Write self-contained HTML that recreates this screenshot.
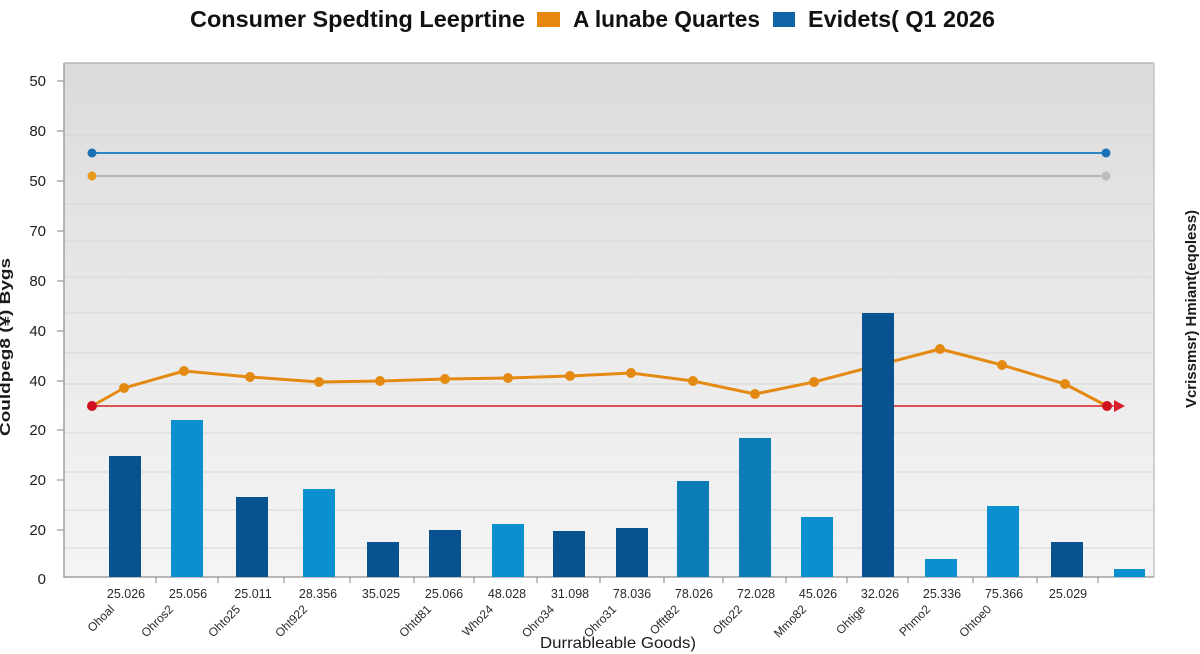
<!DOCTYPE html>
<html>
<head>
<meta charset="utf-8">
<style>
  html, body { margin:0; padding:0; background:#ffffff; }
  svg { display:block; }
  text { font-family: "Liberation Sans", "DejaVu Sans", sans-serif; }
</style>
</head>
<body>
<svg width="1200" height="654" viewBox="0 0 1200 654" xmlns="http://www.w3.org/2000/svg">
  <defs>
    <linearGradient id="bg" x1="0" y1="0" x2="0" y2="1">
      <stop offset="0" stop-color="#dbdbdb"/>
      <stop offset="0.35" stop-color="#e5e5e5"/>
      <stop offset="0.7" stop-color="#eeeeee"/>
      <stop offset="1" stop-color="#f4f4f4"/>
    </linearGradient>
  </defs>

  <rect x="0" y="0" width="1200" height="654" fill="#ffffff"/>

  <!-- Title -->
  <text x="190" y="27" font-size="23" font-weight="bold" fill="#111" textLength="335" lengthAdjust="spacingAndGlyphs">Consumer Spedting Leeprtine</text>
  <rect x="537" y="12" width="23" height="15" fill="#e8870e"/>
  <text x="573" y="27" font-size="23" font-weight="bold" fill="#111" textLength="187" lengthAdjust="spacingAndGlyphs">A lunabe Quartes</text>
  <rect x="773" y="12" width="22" height="15" fill="#0f64a6"/>
  <text x="808" y="27" font-size="23" font-weight="bold" fill="#111" textLength="187" lengthAdjust="spacingAndGlyphs">Evidets( Q1 2026</text>

  <!-- Plot background -->
  <rect x="64" y="63" width="1090" height="514" fill="url(#bg)"/>

  <!-- gridlines -->
  <g stroke="#d6d6d6" stroke-width="1.1">
    <line x1="64" y1="99" x2="1154" y2="99"/>
    <line x1="64" y1="135" x2="1154" y2="135"/>
    <line x1="64" y1="204" x2="1154" y2="204"/>
    <line x1="64" y1="241" x2="1154" y2="241"/>
    <line x1="64" y1="277" x2="1154" y2="277"/>
    <line x1="64" y1="313" x2="1154" y2="313"/>
    <line x1="64" y1="353" x2="1154" y2="353"/>
    <line x1="64" y1="384" x2="1154" y2="384"/>
    <line x1="64" y1="433" x2="1154" y2="433"/>
    <line x1="64" y1="472" x2="1154" y2="472"/>
    <line x1="64" y1="510" x2="1154" y2="510"/>
    <line x1="64" y1="548" x2="1154" y2="548"/>
  </g>

  <!-- border -->
  <line x1="64" y1="63" x2="1154" y2="63" stroke="#b8b8b8" stroke-width="1.5"/>
  <line x1="1154" y1="63" x2="1154" y2="577" stroke="#c4c4c4" stroke-width="1.5"/>
  <line x1="64" y1="63" x2="64" y2="578" stroke="#a0a0a0" stroke-width="1.5"/>
  <line x1="64" y1="577" x2="1154" y2="577" stroke="#a0a0a0" stroke-width="1.5"/>

  <!-- y ticks -->
  <g stroke="#999" stroke-width="1.2">
    <line x1="57" y1="81" x2="64" y2="81"/>
    <line x1="57" y1="131" x2="64" y2="131"/>
    <line x1="57" y1="181" x2="64" y2="181"/>
    <line x1="57" y1="231" x2="64" y2="231"/>
    <line x1="57" y1="281" x2="64" y2="281"/>
    <line x1="57" y1="331" x2="64" y2="331"/>
    <line x1="57" y1="381" x2="64" y2="381"/>
    <line x1="57" y1="430" x2="64" y2="430"/>
    <line x1="57" y1="480" x2="64" y2="480"/>
    <line x1="57" y1="530" x2="64" y2="530"/>
  </g>
  <g font-size="15" fill="#1e1e1e" text-anchor="end">
    <text x="46" y="86">50</text>
    <text x="46" y="136">80</text>
    <text x="46" y="186">50</text>
    <text x="46" y="236">70</text>
    <text x="46" y="286">80</text>
    <text x="46" y="336">40</text>
    <text x="46" y="386">40</text>
    <text x="46" y="435">20</text>
    <text x="46" y="485">20</text>
    <text x="46" y="535">20</text>
    <text x="46" y="584">0</text>
  </g>

  <!-- x ticks -->
  <g stroke="#999" stroke-width="1.2">
    <line x1="156" y1="577" x2="156" y2="583"/>
    <line x1="218" y1="577" x2="218" y2="583"/>
    <line x1="284" y1="577" x2="284" y2="583"/>
    <line x1="350" y1="577" x2="350" y2="583"/>
    <line x1="414" y1="577" x2="414" y2="583"/>
    <line x1="474" y1="577" x2="474" y2="583"/>
    <line x1="537" y1="577" x2="537" y2="583"/>
    <line x1="600" y1="577" x2="600" y2="583"/>
    <line x1="664" y1="577" x2="664" y2="583"/>
    <line x1="723" y1="577" x2="723" y2="583"/>
    <line x1="786" y1="577" x2="786" y2="583"/>
    <line x1="847" y1="577" x2="847" y2="583"/>
    <line x1="908" y1="577" x2="908" y2="583"/>
    <line x1="973" y1="577" x2="973" y2="583"/>
    <line x1="1037" y1="577" x2="1037" y2="583"/>
    <line x1="1098" y1="577" x2="1098" y2="583"/>
  </g>

  <!-- blue & gray horizontal series -->
  <line x1="92" y1="153" x2="1106" y2="153" stroke="#2a86c4" stroke-width="2"/>
  <circle cx="92" cy="153" r="4.5" fill="#1a72b4"/>
  <circle cx="1106" cy="153" r="4.5" fill="#1a72b4"/>
  <line x1="92" y1="176" x2="1106" y2="176" stroke="#b4b4b4" stroke-width="2"/>
  <circle cx="92" cy="176" r="4.5" fill="#e89a1e"/>
  <circle cx="1106" cy="176" r="4.5" fill="#bdbdbd"/>

  <!-- red line with arrow -->
  <line x1="92" y1="406" x2="1118" y2="406" stroke="#d41e24" stroke-width="1.6"/>
  <path d="M1114,400 L1125,406 L1114,412 Z" fill="#d8202a"/>

  <!-- orange line -->
  <polyline fill="none" stroke="#e48a12" stroke-width="3" stroke-linejoin="round"
    points="92,406 124,388 184,371 250,377 319,382 380,381 445,379 508,378 570,376 631,373 693,381 755,394 814,382 940,349 1002,365 1065,384 1107,406"/>
  <g fill="#e48a12">
    <circle cx="124" cy="388" r="5"/>
    <circle cx="184" cy="371" r="5"/>
    <circle cx="250" cy="377" r="5"/>
    <circle cx="319" cy="382" r="5"/>
    <circle cx="380" cy="381" r="5"/>
    <circle cx="445" cy="379" r="5"/>
    <circle cx="508" cy="378" r="5"/>
    <circle cx="570" cy="376" r="5"/>
    <circle cx="631" cy="373" r="5"/>
    <circle cx="693" cy="381" r="5"/>
    <circle cx="755" cy="394" r="5"/>
    <circle cx="814" cy="382" r="5"/>
    <circle cx="940" cy="349" r="5"/>
    <circle cx="1002" cy="365" r="5"/>
    <circle cx="1065" cy="384" r="5"/>
  </g>
  <circle cx="92" cy="406" r="5" fill="#d0101f"/>
  <circle cx="1107" cy="406" r="5" fill="#d0101f"/>

  <!-- bars -->
  <g>
    <rect x="109" y="456" width="32" height="121" fill="#08538f"/>
    <rect x="171" y="420" width="32" height="157" fill="#0a8fcf"/>
    <rect x="236" y="497" width="32" height="80" fill="#08538f"/>
    <rect x="303" y="489" width="32" height="88" fill="#0a8fcf"/>
    <rect x="367" y="542" width="32" height="35" fill="#08538f"/>
    <rect x="429" y="530" width="32" height="47" fill="#08538f"/>
    <rect x="492" y="524" width="32" height="53" fill="#0a8fcf"/>
    <rect x="553" y="531" width="32" height="46" fill="#08538f"/>
    <rect x="616" y="528" width="32" height="49" fill="#08538f"/>
    <rect x="677" y="481" width="32" height="96" fill="#0a7db6"/>
    <rect x="739" y="438" width="32" height="139" fill="#0a7db6"/>
    <rect x="801" y="517" width="32" height="60" fill="#0a90d0"/>
    <rect x="862" y="313" width="32" height="264" fill="#08538f"/>
    <rect x="925" y="559" width="32" height="18" fill="#0a90d0"/>
    <rect x="987" y="506" width="32" height="71" fill="#0a90d0"/>
    <rect x="1051" y="542" width="32" height="35" fill="#08538f"/>
    <rect x="1114" y="569" width="31" height="8" fill="#0a90d0"/>
  </g>

  <!-- numeric x labels -->
  <g font-size="12.5" fill="#2a2a2a" text-anchor="middle">
    <text x="126" y="598">25.026</text>
    <text x="188" y="598">25.056</text>
    <text x="253" y="598">25.011</text>
    <text x="318" y="598">28.356</text>
    <text x="381" y="598">35.025</text>
    <text x="444" y="598">25.066</text>
    <text x="507" y="598">48.028</text>
    <text x="570" y="598">31.098</text>
    <text x="632" y="598">78.036</text>
    <text x="694" y="598">78.026</text>
    <text x="756" y="598">72.028</text>
    <text x="818" y="598">45.026</text>
    <text x="880" y="598">32.026</text>
    <text x="942" y="598">25.336</text>
    <text x="1004" y="598">75.366</text>
    <text x="1068" y="598">25.029</text>
  </g>

  <!-- rotated category labels -->
  <g font-size="12" fill="#2a2a2a" text-anchor="end">
    <text transform="translate(115,610) rotate(-45)">Ohoal</text>
    <text transform="translate(174,610) rotate(-45)">Ohros2</text>
    <text transform="translate(241,610) rotate(-45)">Ohto25</text>
    <text transform="translate(308,610) rotate(-45)">Oht922</text>
    <text transform="translate(432,610) rotate(-45)">Ohtd81</text>
    <text transform="translate(494,610) rotate(-45)">Who24</text>
    <text transform="translate(555,610) rotate(-45)">Ohro34</text>
    <text transform="translate(617,610) rotate(-45)">Ohro31</text>
    <text transform="translate(680,610) rotate(-45)">Offtt82</text>
    <text transform="translate(743,610) rotate(-45)">Ofto22</text>
    <text transform="translate(807,610) rotate(-45)">Mmo82</text>
    <text transform="translate(866,610) rotate(-45)">Ohtige</text>
    <text transform="translate(931,610) rotate(-45)">Phmo2</text>
    <text transform="translate(992,610) rotate(-45)">Ohtoe0</text>
  </g>

  <!-- x axis title -->
  <text x="540" y="648" font-size="16" fill="#1a1a1a" textLength="156" lengthAdjust="spacingAndGlyphs">Durrableable Goods)</text>

  <!-- left y-axis title -->
  <text transform="translate(10,347) rotate(-90)" font-size="15" font-weight="bold" fill="#1a1a1a" text-anchor="middle" textLength="178" lengthAdjust="spacingAndGlyphs">Couldpeg8 (¥) Bygs</text>

  <!-- right y-axis title -->
  <text transform="translate(1196,309) rotate(-90)" font-size="15" font-weight="bold" fill="#1a1a1a" text-anchor="middle" textLength="198" lengthAdjust="spacingAndGlyphs">Vcrissmsr) Hmiant(eqoless)</text>
</svg>
</body>
</html>
